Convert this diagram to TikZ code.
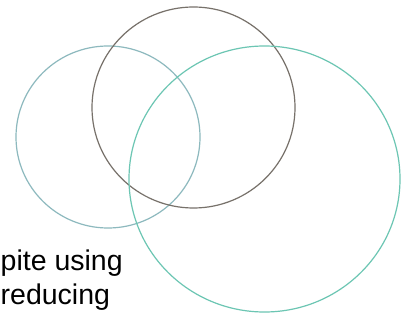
\documentclass[tikz,border=0pt]{standalone}
\usepackage{fontspec}
\setmainfont{Liberation Sans}
\definecolor{cblue}{HTML}{8DB9BE}
\definecolor{cbrown}{HTML}{77716A}
\definecolor{cteal}{HTML}{6CC6B3}
\begin{document}
\begin{tikzpicture}[x=1pt,y=-1pt,
  ring/.style={line width=1.2pt},
  lbl/.style={anchor=base west,inner sep=0pt,font=\fontsize{28.5}{32}\selectfont}]
\useasboundingbox (0,0) rectangle (412,320);
\fill[white] (0,0) rectangle (412,320);
\draw[ring,cblue] (108,137) ellipse [x radius=92,y radius=91];
\draw[ring,cbrown] (193.5,107.5) ellipse [x radius=101.5,y radius=100.5];
\draw[ring,cteal] (264.5,179) ellipse [x radius=135.5,y radius=133];
\node[lbl] (t1) at (0.5,270) {pite using};
\node[lbl] (t2) at (0.5,304) {reducing};
\end{tikzpicture}
\end{document}
